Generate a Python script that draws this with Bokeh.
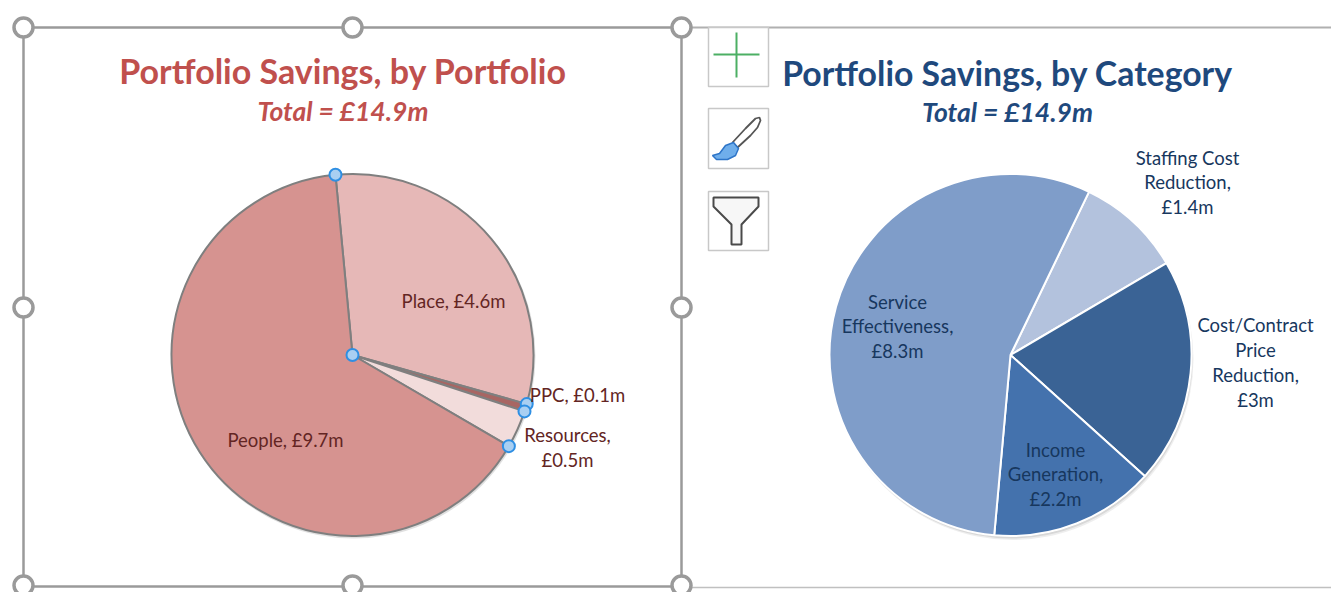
import math
from bokeh.plotting import figure
from bokeh.models import Range1d
from bokeh.core.properties import value
from bokeh.embed import file_html
from bokeh.resources import INLINE

portfolio_names = ["Place", "PPC", "Resources", "People"]
portfolio_values = [4.6, 0.1, 0.5, 9.7]
portfolio_colors = ["#E6B8B7", "#A86663", "#F2DCDB", "#D69390"]
category_names = ["Staffing Cost Reduction", "Cost/Contract Price Reduction", "Income Generation", "Service Effectiveness"]
category_values = [1.4, 3.0, 2.2, 8.3]
category_colors = ["#B3C2DD", "#3A6395", "#4472AD", "#7F9DC9"]
title_left = "Portfolio Savings, by Portfolio"
title_right = "Portfolio Savings, by Category"
subtitle = "Total = £14.9m"
FONT = "Lato"

W, H = 1331, 592
p = figure(width=W, height=H, x_range=Range1d(0, W), y_range=Range1d(0, H),
           output_backend="svg", toolbar_location=None, min_border=0,
           background_fill_color="white", border_fill_color="white", outline_line_color=None)
p.axis.visible = False
p.grid.visible = False


def Y(v):
    return H - v


def seg(x0, y0, x1, y1, color, width):
    p.line([x0, x1], [Y(y0), Y(y1)], line_color=color, line_width=width)


def txt(x, y, s, size, color, style="normal", align="center"):
    p.text([x], [Y(y)], text=[s], text_font=value(FONT), text_font_size=f"{size}px",
           text_color=color, text_font_style=style, text_align=align, text_baseline="middle",
           text_line_height=1.13)


def pie(cx, cy, r, values, colors, start_north, line_color, line_width):
    total = sum(values)
    a = start_north
    bounds = [a]
    for v, c in zip(values, colors):
        b = a + v / total * 360
        p.wedge([cx], [Y(cy)], radius=r, start_angle=math.radians(90 - a), end_angle=math.radians(90 - b),
                direction="clock", fill_color=c, line_color=line_color, line_width=line_width)
        a = b
        bounds.append(a)
    return bounds


# frame
FRAME = "#9A9A9A"
seg(23, 27, 681, 27, FRAME, 2.5)
seg(681, 27, W, 27, "#B0B0B0", 2)
seg(23, 27, 23, 586, FRAME, 2.5)
seg(681, 27, 681, 586, FRAME, 2.5)
seg(23, 586, 681, 586, FRAME, 2.5)
seg(681, 587, W, 587, "#C0C0C0", 1.5)

# pies
LCX, CY, RAD, RCX = 352, 354.5, 181, 1010

# shadows
for off, al in ((4, 0.10), (2.5, 0.14), (1, 0.18)):
    p.circle([RCX + off / 2], [Y(CY + off)], radius=RAD, fill_color="#555555", fill_alpha=al, line_color=None)
p.circle([LCX + 1], [Y(CY + 1.5)], radius=RAD + 1, fill_color="#555555", fill_alpha=0.18, line_color=None)

bounds = pie(LCX, CY, RAD, portfolio_values, portfolio_colors, -5.4, "#7F7F7F", 2)
pie(RCX, CY, RAD, category_values, category_colors, 25.7, "white", 2)

# selection dots on the left pie
dx = [LCX] + [LCX + RAD * math.sin(math.radians(b)) for b in bounds[:4]]
dy = [Y(CY)] + [Y(CY) + RAD * math.cos(math.radians(b)) for b in bounds[:4]]
p.scatter(dx, dy, size=12, fill_color="#A9CFF2", line_color="#2F8FE3", line_width=2)

# titles
txt(342.5, 70, title_left, 34, "#C0504D", "bold")
txt(342.5, 110, subtitle, 26.5, "#C0504D", "bold italic")
txt(1007, 72, title_right, 33.8, "#1F497D", "bold")
txt(1007, 111, subtitle, 26.5, "#1F497D", "bold italic")

# labels
DARK_RED = "#632523"
txt(453, 300, "Place, £4.6m", 18.5, DARK_RED)
txt(577, 394, "PPC, £0.1m", 18.5, DARK_RED)
txt(567, 447, "Resources,\n£0.5m", 18.5, DARK_RED)
txt(285, 439, "People, £9.7m", 18.5, DARK_RED)
DARK_BLUE = "#17375E"
txt(1187, 182, "Staffing Cost\nReduction,\n£1.4m", 18.5, DARK_BLUE)
txt(1255, 362, "Cost/Contract\nPrice\nReduction,\n£3m", 18.5, DARK_BLUE)
txt(1055, 474, "Income\nGeneration,\n£2.2m", 18.5, DARK_BLUE)
txt(897, 326, "Service\nEffectiveness,\n£8.3m", 18.5, DARK_BLUE)

# handles
hx = [23, 352, 681, 23, 681, 23, 352, 681]
hy = [27, 27, 27, 307, 307, 585, 585, 585]
p.scatter(hx, [Y(v) for v in hy], size=19, fill_color="white", line_color="#9A9A9A", line_width=3.5)

# chart-tool buttons
for t, b in ((27, 86), (108, 168), (191, 250)):
    p.quad(left=[708], right=[768], top=[Y(t)], bottom=[Y(b)], fill_color="white", line_color="#C8C8C8", line_width=1.5)
seg(713, 54, 759, 54, "#4CAF64", 2)
seg(736, 32, 736, 77, "#4CAF64", 2)
p.patch([755, 759, 760, 757, 750, 737, 732, 745], [Y(v) for v in (118, 117, 120, 127, 135, 147, 142, 128)],
        fill_color="white", line_color="#555555", line_width=1.8)
p.patch([712, 719, 725, 733, 738, 735, 727, 716], [Y(v) for v in (155, 153, 145, 142, 148, 155, 159, 159)],
        fill_color="#6FAEEB", line_color="#2E75C8", line_width=1.5)
p.patch([713, 758, 758, 741, 741, 731, 731, 713], [Y(v) for v in (197, 197, 206, 224, 244, 244, 224, 206)],
        fill_color="#F7F7F7", line_color="#4A4A4A", line_width=2)

open("out.html", "w").write(file_html(p, INLINE))
